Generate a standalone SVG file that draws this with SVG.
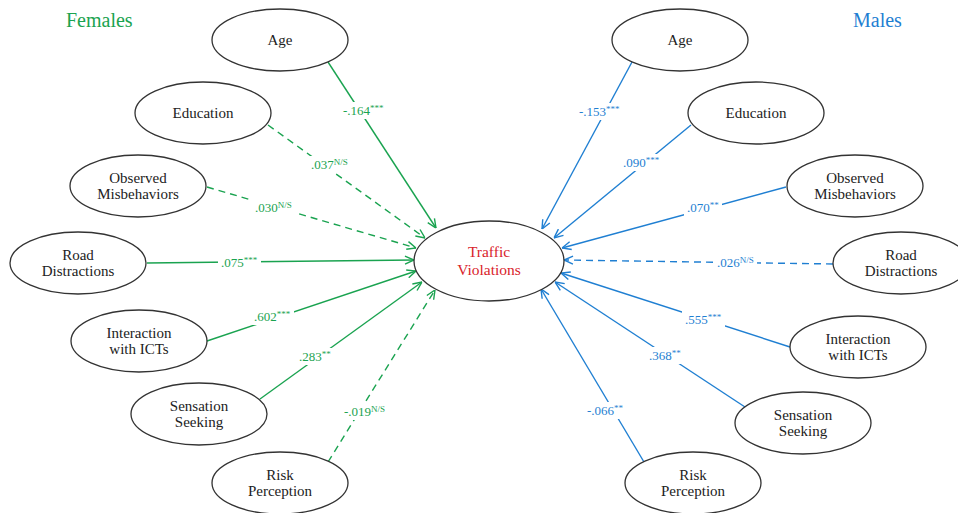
<svg xmlns="http://www.w3.org/2000/svg" width="958" height="513" viewBox="0 0 958 513">
<style>
.node ellipse{fill:#fff;stroke:#333;stroke-width:1.3}
.node text{font-family:"Liberation Serif","DejaVu Serif",serif;font-size:15px;fill:#222;text-anchor:middle}
.title{font-family:"Liberation Serif","DejaVu Serif",serif;font-size:20px}
.f{stroke:#1aa350;fill:none;stroke-width:1.4}
.m{stroke:#1f7fd2;fill:none;stroke-width:1.4}
.d{stroke-dasharray:7 5}
.lab{font-family:"Liberation Serif","DejaVu Serif",serif;font-size:13px}
.sup{font-size:9px}
.bg{fill:#fff;stroke:none}
.lf{fill:#1aa350}
.lm{fill:#1f7fd2}
</style>
<defs>
<marker id="ag" viewBox="0 0 10 10" refX="10" refY="5" markerWidth="10" markerHeight="10" markerUnits="userSpaceOnUse" orient="auto">
<path d="M1,1 L10,5 L1,9" fill="none" stroke="#1aa350" stroke-width="1.4"/>
</marker>
<marker id="ab" viewBox="0 0 10 10" refX="10" refY="5" markerWidth="10" markerHeight="10" markerUnits="userSpaceOnUse" orient="auto">
<path d="M1,1 L10,5 L1,9" fill="none" stroke="#1f7fd2" stroke-width="1.4"/>
</marker>
</defs>
<rect width="958" height="513" fill="#fff"/>
<text class="title" x="66" y="27" fill="#1aa350">Females</text>
<text class="title" x="853" y="27" fill="#1f7fd2">Males</text>
<g id="connectors">
<line class="f" x1="328" y1="62" x2="436" y2="228" marker-end="url(#ag)"/>
<line class="f d" x1="268" y1="125" x2="425" y2="238" marker-end="url(#ag)"/>
<line class="f d" x1="207" y1="187" x2="416" y2="248" marker-end="url(#ag)"/>
<line class="f" x1="147" y1="263" x2="414" y2="260" marker-end="url(#ag)"/>
<line class="f" x1="207" y1="341" x2="416" y2="271" marker-end="url(#ag)"/>
<line class="f" x1="260" y1="399" x2="422" y2="282" marker-end="url(#ag)"/>
<line class="f d" x1="328" y1="462" x2="435" y2="290" marker-end="url(#ag)"/>
<line class="m" x1="632" y1="62" x2="542" y2="229" marker-end="url(#ab)"/>
<line class="m" x1="691" y1="125" x2="554" y2="238" marker-end="url(#ab)"/>
<line class="m" x1="786" y1="187" x2="562" y2="248" marker-end="url(#ab)"/>
<line class="m d" x1="833" y1="264" x2="564" y2="260" marker-end="url(#ab)"/>
<line class="m" x1="790" y1="347" x2="561" y2="273" marker-end="url(#ab)"/>
<line class="m" x1="745" y1="407" x2="555" y2="282" marker-end="url(#ab)"/>
<line class="m" x1="644" y1="462" x2="541" y2="289" marker-end="url(#ab)"/>
<rect class="bg" x="340" y="102" width="47" height="17"/>
<rect class="bg" x="308" y="156" width="43" height="17"/>
<rect class="bg" x="252" y="199" width="43" height="17"/>
<rect class="bg" x="218" y="254" width="43" height="17"/>
<rect class="bg" x="251" y="308" width="43" height="17"/>
<rect class="bg" x="296" y="348" width="38" height="17"/>
<rect class="bg" x="341" y="403" width="47" height="17"/>
<rect class="bg" x="576" y="103" width="47" height="17"/>
<rect class="bg" x="620" y="154" width="43" height="17"/>
<rect class="bg" x="684" y="199" width="38" height="17"/>
<rect class="bg" x="714" y="254" width="43" height="17"/>
<rect class="bg" x="682" y="311" width="43" height="17"/>
<rect class="bg" x="646" y="347" width="38" height="17"/>
<rect class="bg" x="584" y="402" width="43" height="17"/>
<text class="lab lf" x="343" y="115">-.164<tspan class="sup" dy="-4">***</tspan></text>
<text class="lab lf" x="311" y="169">.037<tspan class="sup" dy="-4">N/S</tspan></text>
<text class="lab lf" x="255" y="212">.030<tspan class="sup" dy="-4">N/S</tspan></text>
<text class="lab lf" x="221" y="267">.075<tspan class="sup" dy="-4">***</tspan></text>
<text class="lab lf" x="254" y="321">.602<tspan class="sup" dy="-4">***</tspan></text>
<text class="lab lf" x="299" y="361">.283<tspan class="sup" dy="-4">**</tspan></text>
<text class="lab lf" x="344" y="416">-.019<tspan class="sup" dy="-4">N/S</tspan></text>
<text class="lab lm" x="579" y="116">-.153<tspan class="sup" dy="-4">***</tspan></text>
<text class="lab lm" x="623" y="167">.090<tspan class="sup" dy="-4">***</tspan></text>
<text class="lab lm" x="687" y="212">.070<tspan class="sup" dy="-4">**</tspan></text>
<text class="lab lm" x="717" y="267">.026<tspan class="sup" dy="-4">N/S</tspan></text>
<text class="lab lm" x="685" y="324">.555<tspan class="sup" dy="-4">***</tspan></text>
<text class="lab lm" x="649" y="360">.368<tspan class="sup" dy="-4">**</tspan></text>
<text class="lab lm" x="587" y="415">-.066<tspan class="sup" dy="-4">**</tspan></text>
</g>
<g id="traffic-violations" class="node">
<ellipse cx="489" cy="261" rx="75" ry="40"/>
<text x="489" y="257" style="fill:#d9232b;font-size:15.5px">Traffic</text>
<text x="489" y="275" style="fill:#d9232b;font-size:15.5px">Violations</text>
</g>
<g id="f-age" class="node"><ellipse cx="280" cy="40" rx="68" ry="31"/><text x="280" y="45">Age</text></g>
<g id="f-education" class="node"><ellipse cx="203" cy="113" rx="68" ry="31"/><text x="203" y="118">Education</text></g>
<g id="f-observed" class="node"><ellipse cx="138" cy="186" rx="68" ry="31"/><text x="138" y="183">Observed</text><text x="138" y="199">Misbehaviors</text></g>
<g id="f-road" class="node"><ellipse cx="78" cy="263" rx="68" ry="31"/><text x="78" y="260">Road</text><text x="78" y="276">Distractions</text></g>
<g id="f-ict" class="node"><ellipse cx="139" cy="341" rx="68" ry="31"/><text x="139" y="338">Interaction</text><text x="139" y="354">with ICTs</text></g>
<g id="f-sensation" class="node"><ellipse cx="199" cy="414" rx="68" ry="31"/><text x="199" y="411">Sensation</text><text x="199" y="427">Seeking</text></g>
<g id="f-risk" class="node"><ellipse cx="280" cy="483" rx="68" ry="31"/><text x="280" y="480">Risk</text><text x="280" y="496">Perception</text></g>
<g id="m-age" class="node"><ellipse cx="680" cy="40" rx="68" ry="31"/><text x="680" y="45">Age</text></g>
<g id="m-education" class="node"><ellipse cx="756" cy="113" rx="68" ry="31"/><text x="756" y="118">Education</text></g>
<g id="m-observed" class="node"><ellipse cx="855" cy="186" rx="68" ry="31"/><text x="855" y="183">Observed</text><text x="855" y="199">Misbehaviors</text></g>
<g id="m-road" class="node"><ellipse cx="901" cy="263" rx="68" ry="31"/><text x="901" y="260">Road</text><text x="901" y="276">Distractions</text></g>
<g id="m-ict" class="node"><ellipse cx="858" cy="347" rx="68" ry="31"/><text x="858" y="344">Interaction</text><text x="858" y="360">with ICTs</text></g>
<g id="m-sensation" class="node"><ellipse cx="803" cy="423" rx="68" ry="31"/><text x="803" y="420">Sensation</text><text x="803" y="436">Seeking</text></g>
<g id="m-risk" class="node"><ellipse cx="693" cy="483" rx="68" ry="31"/><text x="693" y="480">Risk</text><text x="693" y="496">Perception</text></g>
</svg>
